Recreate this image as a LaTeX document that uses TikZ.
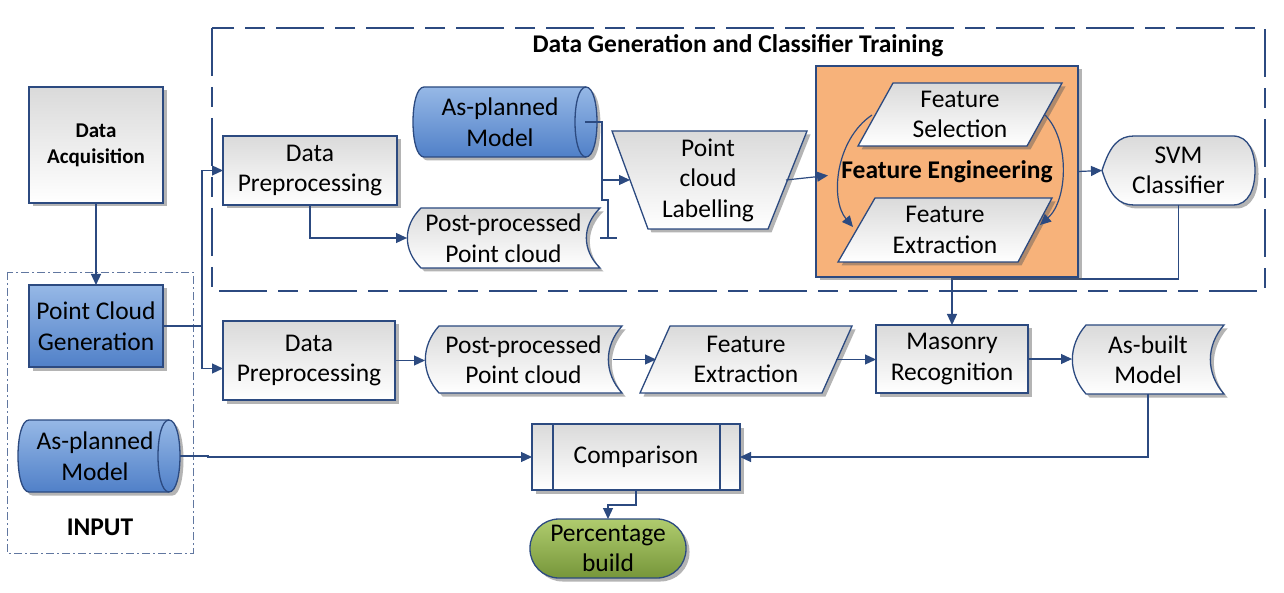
\documentclass[tikz,border=0pt]{standalone}
\usepackage{fontspec}
\setmainfont{Carlito}
\usetikzlibrary{arrows.meta,shadows}
\definecolor{bordc}{RGB}{44,74,128}
\definecolor{orangef}{RGB}{247,178,122}
\definecolor{blueT}{RGB}{150,184,230}
\definecolor{blueB}{RGB}{80,128,200}
\definecolor{greenT}{RGB}{176,204,110}
\definecolor{greenB}{RGB}{118,150,58}
\definecolor{grayT}{RGB}{218,218,218}
\newcommand\mainfs{\fontsize{25.5}{30.5}\selectfont}
\newcommand\dafs{\fontsize{21}{26}\selectfont\bfseries}
\newcommand\sdshape[6][]{%
  \path[shp,#1] (#2+#6,#3) -- (#4,#3)
    .. controls ({#4-1.3*#6},{#3+0.3*(#5-#3)}) and ({#4-1.3*#6},{#5-0.3*(#5-#3)}) .. (#4,#5)
    -- (#2+#6,#5)
    .. controls ({#2-0.3*#6},{#5-0.3*(#5-#3)}) and ({#2-0.3*#6},{#3+0.3*(#5-#3)}) .. (#2+#6,#3) -- cycle;}
\newcommand\cylshape[6][]{%
  \path[shp,#1] (#2+#6,#3) -- (#4-#6,#3)
    .. controls ({#4+#6/3},#3) and ({#4+#6/3},#5) .. (#4-#6,#5)
    -- (#2+#6,#5)
    .. controls ({#2-#6/3},#5) and ({#2-#6/3},#3) .. (#2+#6,#3) -- cycle;
  \draw[draw=bordc, line width=1.3pt] (#4-#6,#3) .. controls ({#4-7*#6/3},#3) and ({#4-7*#6/3},#5) .. (#4-#6,#5);}
\begin{document}
\begin{tikzpicture}[x=1pt,y=-1pt,
  shp/.style={draw=bordc, line width=1.3pt, drop shadow={shadow xshift=3.5pt, shadow yshift=-3.5pt, fill=black!65, opacity=.45}},
  gfill/.style={top color=grayT, bottom color=white},
  bfill/.style={top color=blueT, bottom color=blueB},
  ofill/.style={fill=orangef},
  txt/.style={align=center, inner sep=0pt, outer sep=0pt, font=\mainfs, text=black},
  rbox/.style={shp, gfill, txt, rectangle},
  conn/.style={draw=bordc, line width=1.2pt},
  arr/.style={conn, -{Triangle[length=11pt,width=10pt]}},
  dgbox/.style={draw=bordc, line width=2.6pt, dash pattern=on 48pt off 11pt on 20pt off 11pt},
  inbox/.style={draw=bordc!75, line width=0.8pt, dash pattern=on 8pt off 3pt on 2pt off 3pt},
  bold/.style={txt, font=\mainfs\bfseries}
]
\useasboundingbox (0,0) rectangle (1284,593);
\fill[white] (0,0) rectangle (1284,593);

% frames
\draw[inbox] (7,272) rectangle (193,553);
\draw[dgbox] (212,28) rectangle (1265,291);
\node[bold] (title) at (738,46) {Data Generation and Classifier Training};
\node[bold] (input) at (100,527) {INPUT};

% left column
\node[rbox, font=\dafs, minimum width=134pt, minimum height=116pt] (da) at (96,145) {Data\\Acquisition};
\node[rbox, bfill, minimum width=134pt, minimum height=82pt] (pcg) at (96,326) {Point Cloud\\Generation};
\cylshape[bfill]{18}{420}{180}{492}{11}
\node[txt, minimum width=170pt, minimum height=72pt] (ap2) at (95,456) {As-planned\\Model};

% top row
\node[rbox, minimum width=174pt, minimum height=69pt] (dp1) at (310,170.5) {Data\\Preprocessing};
\cylshape[bfill]{413}{87}{597}{157}{11}
\node[txt, minimum width=170pt, minimum height=70pt] (ap1) at (500,122) {As-planned\\Model};
\sdshape[gfill]{407}{208}{600}{268}{14}
\node[txt, minimum width=193pt, minimum height=60pt] (pp1) at (503.5,238) {Post-processed\\Point cloud};
\path[shp,gfill] (612,131) -- (807,131) -- (768,229) -- (648,229) -- cycle;
\node[txt, minimum width=156pt, minimum height=98pt] (lab) at (708,180) {Point\\cloud\\Labelling};
\path[shp,gfill] (1102,170.5) .. controls (1110,145) and (1119,136) .. (1134,136) -- (1233,136)
  .. controls (1249,136) and (1255,153) .. (1255,170.5) .. controls (1255,188) and (1249,205) .. (1233,205)
  -- (1134,205) .. controls (1119,205) and (1110,196) .. (1102,170.5) -- cycle;
\node[txt, minimum width=153pt, minimum height=69pt] (svm) at (1178.5,170.5) {SVM\\Classifier};

% bottom row
\node[rbox, minimum width=172pt, minimum height=79pt] (dp2) at (309,360.5) {Data\\Preprocessing};
\sdshape[gfill]{425}{326}{622}{393}{14}
\node[txt, minimum width=197pt, minimum height=67pt] (pp2) at (523.5,359.5) {Post-processed\\Point cloud};
\path[shp,gfill] (670,326) -- (852,326) -- (822,393) -- (640,393) -- cycle;
\node[txt, minimum width=180pt, minimum height=67pt] (fx2) at (746,359.5) {Feature\\Extraction};
\node[rbox, minimum width=152pt, minimum height=68pt] (mr) at (952,359) {Masonry\\Recognition};
\sdshape[gfill]{1072}{325}{1224}{394}{14}
\node[txt, minimum width=152pt, minimum height=69pt] (ab) at (1148,359.5) {As-built\\Model};

% SVM -> masonry (behind FE box)
\draw[arr] (svm.south) -- ++(0,74) -| (mr.north);

% Feature engineering block
\node[shp, ofill, bold, minimum width=262pt, minimum height=211pt] (fe) at (947,171.5) {Feature Engineering};
\path[shp,gfill] (893,83) -- (1062,83) -- (1027,146) -- (858,146) -- cycle;
\node[txt, minimum width=170pt, minimum height=63pt] (fs) at (960,114.5) {Feature\\Selection};
\path[shp,gfill] (875,198) -- (1052,198) -- (1018,262) -- (838,262) -- cycle;
\node[txt, minimum width=177pt, minimum height=64pt] (fx) at (945,230) {Feature\\Extraction};
\coordinate (fsl) at (872,115);
\coordinate (fxl) at (853,227);
\coordinate (fsr) at (1045,115);
\coordinate (fxr) at (1040,225);
\draw[arr] (fsl) .. controls (835,140) and (830,200) .. (fxl);
\draw[arr] (fsr) .. controls (1070,140) and (1068,200) .. (fxr);

% comparison and result
\node[rbox, minimum width=208pt, minimum height=66pt] (cmp) at (636,457) {Comparison};
\draw[conn, line width=1.3pt] ([xshift=21pt]cmp.north west) -- ([xshift=21pt]cmp.south west);
\draw[conn, line width=1.3pt] ([xshift=-20pt]cmp.north east) -- ([xshift=-20pt]cmp.south east);
\node[shp, top color=greenT, bottom color=greenB, txt, rounded corners=29pt, minimum width=156pt, minimum height=59pt] (pct) at (608,548.5) {Percentage\\build};

% connectors
\draw[arr] (da.south) -- (pcg.north);
\draw[arr] (pcg.east) -- ++(39,0) |- (dp1.west);
\draw[arr] (pcg.east) -- ++(39,0) |- ([yshift=-8pt]dp2.west);
\draw[arr] (dp1.south) |- (pp1.west);
\coordinate (j1) at (602,180);
\draw[arr] (ap1.east) -| (j1) -- (lab.west);
\draw[conn] (pp1.east) -- ++(17,0);
\draw[conn] ([xshift=8pt]pp1.east) -- ++(0,-38) -- ++(-6,0) -- ++(0,-20);
\draw[arr] (lab.east) -- ([xshift=12pt,yshift=-4pt]fe.west);
\draw[arr] (fe.east) -- (svm.west);
\draw[arr] (dp2.east) -- (dp2.east -| pp2.west);
\draw[arr] ([xshift=-9pt]pp2.east) -- (fx2.west);
\draw[arr] (fx2.east) -- (fx2.east -| mr.west);
\draw[arr] (mr.east) -- (mr.east -| ab.west);
\draw[arr] (ab.south) |- (cmp.east);
\draw[arr] (ap2.east) -- ++(28,0) |- (cmp.west);
\draw[arr] (cmp.south) -- ++(0,15) -| (pct.north);
\end{tikzpicture}
\end{document}
